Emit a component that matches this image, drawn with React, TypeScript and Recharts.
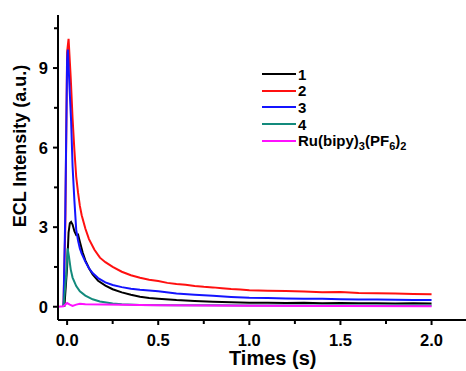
import React from "react";
import { LineChart, Line, XAxis, YAxis } from "recharts";

// ---- data (time in s, intensity in a.u.) ----
const t1 = [-0.015, 0.0, 0.008, 0.015, 0.022, 0.03, 0.04, 0.05, 0.06, 0.07, 0.085, 0.1, 0.12, 0.14, 0.17, 0.21, 0.25, 0.3, 0.35, 0.4, 0.45, 0.5, 0.6, 0.7, 0.8, 0.9, 1.0, 1.1, 1.2, 1.3, 1.4, 1.5, 1.6, 1.7, 1.8, 1.9, 2.0];
const v1 = [0, 1.5, 2.8, 3.15, 3.2, 3.1, 2.85, 2.7, 2.72, 2.45, 2.05, 1.75, 1.45, 1.22, 0.98, 0.8, 0.66, 0.54, 0.45, 0.38, 0.33, 0.3, 0.25, 0.22, 0.19, 0.17, 0.15, 0.15, 0.14, 0.15, 0.13, 0.14, 0.13, 0.13, 0.12, 0.13, 0.12];

const t2 = [-0.02, -0.01, 0.0, 0.008, 0.02, 0.03, 0.04, 0.05, 0.06, 0.07, 0.08, 0.1, 0.12, 0.15, 0.18, 0.21, 0.25, 0.3, 0.35, 0.4, 0.45, 0.5, 0.55, 0.6, 0.65, 0.7, 0.75, 0.8, 0.85, 0.9, 0.95, 1.0, 1.1, 1.2, 1.3, 1.4, 1.5, 1.6, 1.7, 1.8, 1.9, 2.0];
const v2 = [0, 3.0, 9.6, 10.1, 8.6, 7.1, 5.9, 4.9, 4.3, 3.8, 3.45, 2.95, 2.55, 2.15, 1.85, 1.68, 1.5, 1.32, 1.19, 1.09, 1.02, 0.97, 0.9, 0.86, 0.83, 0.78, 0.75, 0.73, 0.7, 0.67, 0.65, 0.62, 0.6, 0.59, 0.57, 0.55, 0.56, 0.52, 0.51, 0.5, 0.48, 0.47];

const t3 = [-0.02, -0.01, 0.0, 0.004, 0.015, 0.022, 0.03, 0.04, 0.05, 0.06, 0.07, 0.08, 0.1, 0.12, 0.14, 0.17, 0.21, 0.25, 0.3, 0.35, 0.4, 0.45, 0.5, 0.6, 0.7, 0.8, 0.9, 1.0, 1.1, 1.2, 1.3, 1.4, 1.5, 1.6, 1.7, 1.8, 1.9, 2.0];
const v3 = [0, 3.5, 9.3, 9.7, 8.0, 7.0, 5.3, 4.0, 2.9, 2.5, 2.2, 2.0, 1.7, 1.45, 1.27, 1.08, 0.92, 0.82, 0.74, 0.68, 0.64, 0.61, 0.58, 0.5, 0.45, 0.41, 0.37, 0.34, 0.33, 0.31, 0.3, 0.3, 0.28, 0.27, 0.27, 0.26, 0.25, 0.25];

const t4 = [-0.02, -0.005, 0.003, 0.01, 0.02, 0.03, 0.05, 0.07, 0.1, 0.14, 0.18, 0.25, 0.3, 0.4, 0.6, 0.8, 1.0, 1.5, 2.0];
const v4 = [0, 1.2, 2.2, 1.9, 1.4, 1.1, 0.78, 0.58, 0.42, 0.28, 0.2, 0.12, 0.09, 0.07, 0.06, 0.06, 0.05, 0.05, 0.05];

const t5 = [-0.05, -0.02, 0.0, 0.015, 0.03, 0.05, 0.07, 0.1, 0.2, 0.5, 1.0, 1.5, 2.0];
const v5 = [0, 0.02, 0.14, 0.08, 0.03, 0.08, 0.11, 0.09, 0.08, 0.06, 0.04, 0.03, 0.02];

const seriesNames = ["1", "2", "3", "4", "Ru(bipy)3(PF6)2"];
const seriesColors = ["#000000", "#ff1010", "#1414ff", "#138a7c", "#ff10ff"];

const xMajor = [0, 0.5, 1.0, 1.5, 2.0];
const xTicks = [0, 0.25, 0.5, 0.75, 1.0, 1.25, 1.5, 1.75, 2.0];
const yMajor = [0, 3, 6, 9];
const yTicks = [0, 1.5, 3, 4.5, 6, 7.5, 9, 10.5];

const zip = (t: number[], v: number[]) => t.map((x, i) => ({ t: x, v: v[i] }));
const seriesData = [zip(t1, v1), zip(t2, v2), zip(t3, v3), zip(t4, v4), zip(t5, v5)];

const FONT = "'Liberation Sans', Arial, sans-serif";

const XTick = (props: any) => {
  const { x, y, payload } = props;
  const major = xMajor.some((m) => Math.abs(m - payload.value) < 1e-6);
  return (
    <g>
      <line x1={x} x2={x} y1={y - 5} y2={y - 5 + (major ? 5 : 4)} stroke="#000" strokeWidth={2} />
      {major && (
        <text x={x} y={y + 20.5} textAnchor="middle" fontFamily={FONT} fontWeight="bold" fontSize={16.5} fill="#000">
          {payload.value.toFixed(1)}
        </text>
      )}
    </g>
  );
};

const YTick = (props: any) => {
  const { x, y, payload } = props;
  const major = yMajor.some((m) => Math.abs(m - payload.value) < 1e-6);
  return (
    <g>
      <line x1={x + 5} x2={x + 5 - (major ? 5 : 4)} y1={y} y2={y} stroke="#000" strokeWidth={2} />
      {major && (
        <text x={x - 5} y={y + 6} textAnchor="end" fontFamily={FONT} fontWeight="bold" fontSize={16.5} fill="#000">
          {payload.value}
        </text>
      )}
    </g>
  );
};

const subStyle: React.CSSProperties = { fontSize: 11, lineHeight: 0, verticalAlign: "-4px" };

const LegendBox = () => (
  <div style={{ position: "absolute", left: 262, top: 66, fontFamily: FONT, fontWeight: "bold", fontSize: 15, color: "#000" }}>
    {seriesNames.map((n, i) => (
      <div key={n} style={{ display: "flex", alignItems: "center", height: 16.6, lineHeight: "15px", whiteSpace: "nowrap" }}>
        <div style={{ width: 34, height: 2, background: seriesColors[i], marginRight: 2 }} />
        {i < 4 ? (
          <span style={{ lineHeight: "15px" }}>{n}</span>
        ) : (
          <span style={{ lineHeight: "15px" }}>
            Ru(bipy)<span style={subStyle}>3</span>(PF<span style={subStyle}>6</span>)<span style={subStyle}>2</span>
          </span>
        )}
      </div>
    ))}
  </div>
);

export default function App() {
  return (
    <div style={{ position: "absolute", left: 0, top: 0, width: 466, height: 371, overflow: "hidden", background: "#fff" }}>
      <LineChart width={480} height={371} margin={{ top: 15, right: 12, left: 0, bottom: 0 }}>
        <XAxis
          dataKey="t"
          type="number"
          domain={[-0.05, 2.2]}
          ticks={xTicks}
          tick={<XTick />}
          tickLine={false}
          tickSize={5}
          tickMargin={0}
          height={51}
          axisLine={{ stroke: "#000", strokeWidth: 2 }}
          allowDataOverflow
          interval={0}
        />
        <XAxis
          xAxisId="top"
          orientation="top"
          dataKey="t"
          type="number"
          domain={[-0.05, 2.2]}
          tick={false}
          tickLine={false}
          height={0}
          axisLine={{ stroke: "#000", strokeWidth: 2 }}
        />
        <YAxis
          type="number"
          domain={[-0.5, 11]}
          ticks={yTicks}
          tick={<YTick />}
          tickLine={false}
          tickSize={5}
          tickMargin={0}
          width={58}
          axisLine={{ stroke: "#000", strokeWidth: 2 }}
          allowDataOverflow
          interval={0}
        />
        {seriesData.map((d, i) => (
          <Line
            key={seriesNames[i]}
            data={d}
            dataKey="v"
            type="linear"
            stroke={seriesColors[i]}
            strokeWidth={2}
            dot={false}
            isAnimationActive={false}
          />
        ))}
      </LineChart>
      <div style={{ position: "absolute", left: 0, top: 0, width: 466, height: 371, pointerEvents: "none" }}>
        <LegendBox />
        <div style={{ position: "absolute", left: 229, top: 350, fontFamily: FONT, fontWeight: "bold", fontSize: 20, lineHeight: "16px" }}>Times (s)</div>
        <div
          style={{
            position: "absolute",
            left: 20,
            top: 146,
            transform: "translate(-50%, -50%) rotate(-90deg)",
            whiteSpace: "nowrap",
            fontFamily: FONT,
            fontWeight: "bold",
            fontSize: 18,
          }}
        >
          ECL Intensity (a.u.)
        </div>
      </div>
    </div>
  );
}
